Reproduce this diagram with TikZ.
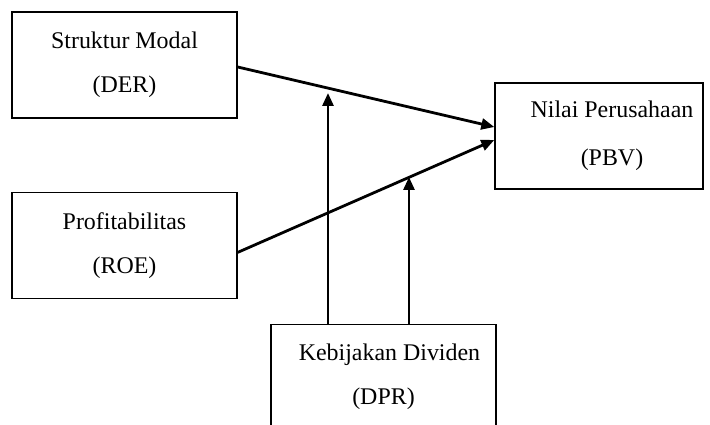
\documentclass[tikz,border=0pt]{standalone}
\usepackage{fontspec}
\setmainfont{Liberation Serif}
\usetikzlibrary{arrows.meta,positioning}

\begin{document}
\begin{tikzpicture}[x=0.5bp, y=-0.5bp, node distance=36.5bp and 20bp, every node/.style={font=\fontsize{12}{14}\selectfont}]
	\useasboundingbox (0,0) rectangle (710,425);
	\clip (0,0) rectangle (710,425);
	\tikzset{varbox/.style={draw, line width=0.7pt, minimum width=112.5bp, minimum height=53bp, align=center, inner sep=0pt},
		arr/.style={line width=1.4pt, -{Triangle[length=6.5bp, width=5.5bp]}}}
	
	\node[varbox] (sm) at (124.5,65) {Struktur Modal\\[8pt](DER)};
	\node[varbox, below=of sm] (pr) {Profitabilitas\\[8pt](ROE)};
	\node[varbox, minimum width=104bp] (nb) at (599,136) {\hspace*{13bp}Nilai Perusahaan\\[10pt]\hspace*{13bp}(PBV)};
	\node[varbox, anchor=north, minimum height=52bp] (kb) at (383.5,324) {\hspace*{6bp}Kebijakan Dividen\\[8pt](DPR)};
	
	\coordinate (t1) at (328,93);
	\coordinate (t2) at (409,177);
	
	\draw[arr] ([yshift=-1bp]sm.east) -- ([yshift=4.5bp]nb.west);
	\draw[arr] ([yshift=-3.5bp]pr.east) -- ([yshift=-2bp]nb.west);
	\draw[arr] (kb.north -| t1) -- (t1);
	\draw[arr] (kb.north -| t2) -- (t2);
\end{tikzpicture}
\end{document}
